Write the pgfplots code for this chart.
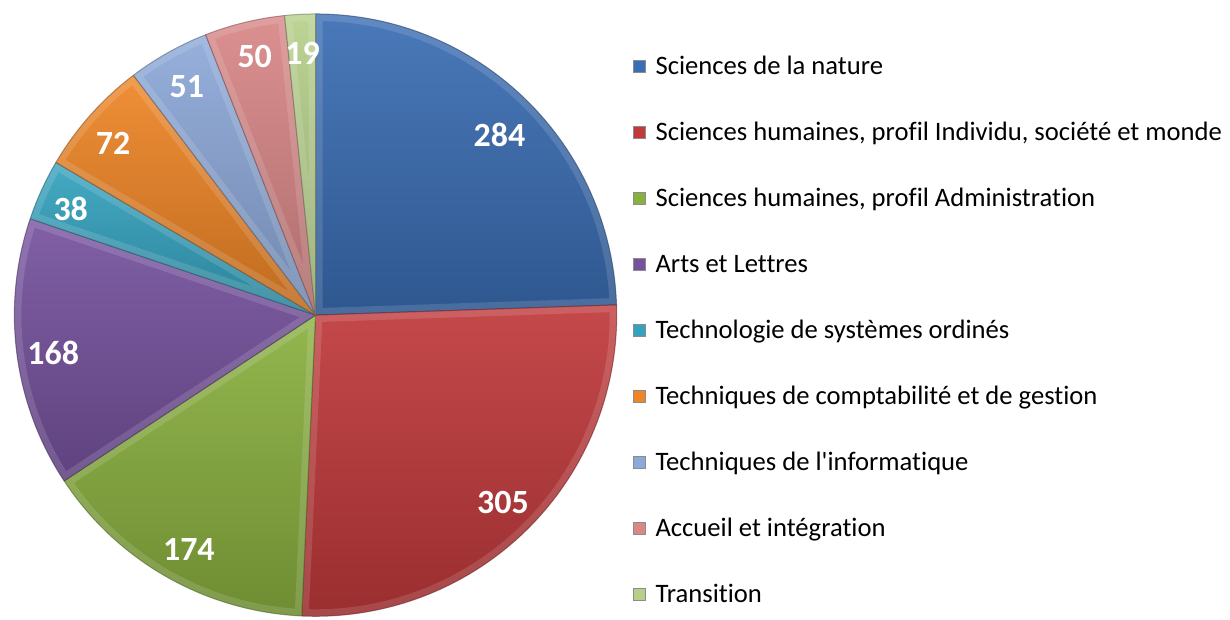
\documentclass[border=0pt]{standalone}
\usepackage{pgfplots}
\usepackage{pgfplotstable}
\pgfplotsset{compat=1.18}
\usepackage{fontspec}
\setmainfont{Carlito}
\newfontfamily\calib{Carlito}[Ligatures=NoCommon]

\definecolor{cA}{HTML}{3A6DB3}
\definecolor{cB}{HTML}{C0393B}
\definecolor{cC}{HTML}{8AB03F}
\definecolor{cD}{HTML}{76529E}
\definecolor{cE}{HTML}{35A3BF}
\definecolor{cF}{HTML}{EE8526}
\definecolor{cG}{HTML}{8DA9D9}
\definecolor{cH}{HTML}{D98787}
\definecolor{cI}{HTML}{B6D08B}

% values clockwise from 12 o'clock, colour, label position (axis units)
\pgfplotstableread{
v   c   lx      ly
284 cA  92.25   90.5
305 cB  94     -93.75
174 cC -63.5  -117.5
168 cD -131.5  -19
38  cE -122.75  53
72  cF -101.5   86
51  cG -64.5   114.5
50  cH -30.5   129.5
19  cI  -6.5   131
}\piedata

\def\R{151}
\newcommand\sector[3]{%
  \shade[top color=#1!92!white, bottom color=#1!80!black]
    (axis cs:0,0) -- (axis cs:{\R*cos(#2)},{\R*sin(#2)}) arc[start angle=#2, end angle=#3, radius=\R] -- cycle;
  \begin{scope}
    \clip (axis cs:0,0) -- (axis cs:{\R*cos(#2)},{\R*sin(#2)}) arc[start angle=#2, end angle=#3, radius=\R] -- cycle;
    \draw[white, opacity=0.13, line width=7pt, line join=round]
      (axis cs:0,0) -- (axis cs:{\R*cos(#2)},{\R*sin(#2)}) arc[start angle=#2, end angle=#3, radius=\R] -- cycle;
  \end{scope}
  \draw[#1!55!black, opacity=0.55, line width=0.5pt, line join=round]
    (axis cs:0,0) -- (axis cs:{\R*cos(#2)},{\R*sin(#2)}) arc[start angle=#2, end angle=#3, radius=\R] -- cycle;
}
\newcommand\slicelabel[3]{%
  \node[text=white, font=\calib\bfseries\fontsize{17pt}{20pt}\selectfont, inner sep=0pt]
    at (axis cs:#1,#2) {#3};
}

% build drawing commands from the table
\pgfplotstablegetrowsof{\piedata}
\pgfmathtruncatemacro\lastrow{\pgfplotsretval-1}
\def\total{0}
\pgfplotsforeachungrouped \i in {0,...,\lastrow}{%
  \pgfplotstablegetelem{\i}{v}\of\piedata
  \pgfmathsetmacro\total{\total+\pgfplotsretval}%
}
\def\cum{0}
\def\piesectors{}
\def\pielabels{}
\pgfplotsforeachungrouped \i in {0,...,\lastrow}{%
  \pgfplotstablegetelem{\i}{v}\of\piedata \edef\val{\pgfplotsretval}%
  \pgfplotstablegetelem{\i}{c}\of\piedata \edef\col{\pgfplotsretval}%
  \pgfplotstablegetelem{\i}{lx}\of\piedata \edef\lx{\pgfplotsretval}%
  \pgfplotstablegetelem{\i}{ly}\of\piedata \edef\ly{\pgfplotsretval}%
  \pgfmathsetmacro\aS{90-360*(\cum/\total)}%
  \pgfmathsetmacro\cum{\cum+\val}%
  \pgfmathsetmacro\aE{90-360*(\cum/\total)}%
  \xdef\piesectors{\unexpanded\expandafter{\piesectors}\noexpand\sector{\col}{\aS}{\aE}}%
  \xdef\pielabels{\unexpanded\expandafter{\pielabels}\noexpand\slicelabel{\lx}{\ly}{\val}}%
}

\pgfplotsset{sqlegend/.style={legend image code/.code={%
  \fill[##1, draw=black!45, line width=0.3pt] (0pt,-3pt) rectangle (6pt,3pt);}}}

\begin{document}
\begin{tikzpicture}
\begin{axis}[
  scale only axis, width=615pt, height=309pt,
  xmin=-156.5, xmax=458.5, ymin=-151, ymax=158,
  hide axis, clip=false,
  legend cell align=left,
  legend style={draw=none, fill=none,
    at={(axis description cs:0.5081,0.4644)}, anchor=west,
    row sep=24.7pt, column sep=5pt,
    font=\calib\fontsize{13.35pt}{15pt}\selectfont,
    nodes={inner sep=0pt, text height=8.4pt, text depth=0pt}},
]
\path (axis cs:-156.5,-151) rectangle (axis cs:458.5,158);
\piesectors
\pielabels
\addlegendimage{sqlegend, fill=cA}
\addlegendentry{Sciences de la nature}
\addlegendimage{sqlegend, fill=cB}
\addlegendentry{Sciences humaines, profil Individu, société et monde}
\addlegendimage{sqlegend, fill=cC}
\addlegendentry{Sciences humaines, profil Administration}
\addlegendimage{sqlegend, fill=cD}
\addlegendentry{Arts et Lettres}
\addlegendimage{sqlegend, fill=cE}
\addlegendentry{Technologie de systèmes ordinés}
\addlegendimage{sqlegend, fill=cF}
\addlegendentry{Techniques de comptabilité et de gestion}
\addlegendimage{sqlegend, fill=cG}
\addlegendentry{Techniques de l'informatique}
\addlegendimage{sqlegend, fill=cH}
\addlegendentry{Accueil et intégration}
\addlegendimage{sqlegend, fill=cI}
\addlegendentry{Transition}
\end{axis}
\end{tikzpicture}
\end{document}
